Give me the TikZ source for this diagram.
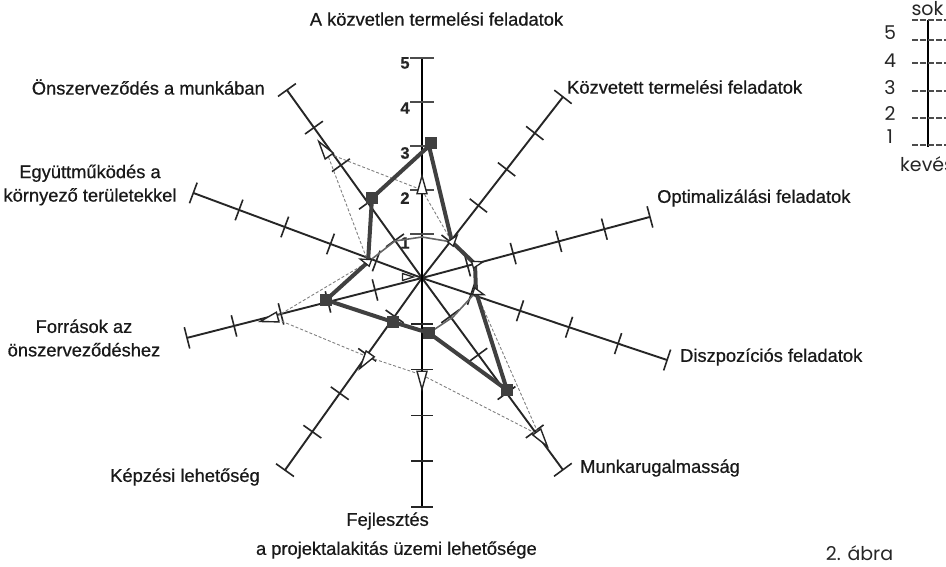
\documentclass[tikz,border=0pt]{standalone}
\usepackage{fontspec}
\setmainfont{Liberation Sans}[FakeBold=0.4]
\newfontfamily\labfont{Liberation Sans}[FakeBold=0.6]
\newfontfamily\legfont{Poppins}
\usetikzlibrary{calc,shapes.geometric}
\definecolor{axc}{gray}{0.15}
\definecolor{sqc}{gray}{0.25}
\begin{document}
\begin{tikzpicture}[x=1pt,y=-1pt,
  ax/.style={draw=axc, line width=1.9pt},
  tk/.style={draw=axc, line width=1.6pt},
  lbl/.style={font=\labfont\fontsize{18.3}{23.5}\selectfont, inner sep=0pt, text=black!90},
  numf/.style={font=\fontsize{16.5}{18}\selectfont\bfseries, inner sep=0pt, text=black!85},
  legt/.style={font=\legfont\fontsize{19}{21}\selectfont, inner sep=0pt, text=black!85},
  sqm/.style={rectangle, fill=sqc, minimum size=12.5pt, inner sep=0pt},
  trm/.style={isosceles triangle, isosceles triangle stretches, minimum width=10pt, minimum height=18pt, inner sep=0pt, draw=black!85, fill=white, line width=1.4pt},
  trs/.style={isosceles triangle, isosceles triangle stretches, minimum width=7pt, minimum height=11pt, inner sep=0pt, draw=black!85, fill=white, line width=1.3pt},
  sera/.style={draw=sqc, line width=4pt, line join=round},
  serb/.style={draw=black!50, line width=0.9pt, dash pattern=on 3pt off 2pt},
  serc/.style={draw=black!60, line width=1.6pt, line join=round},
  legtick/.style={draw=black!70, line width=1.1pt, dash pattern=on 6pt off 2pt}
]
\useasboundingbox (0,0) rectangle (946,567);
\fill[white] (0,0) rectangle (946,567);

% centre and axis ends
\coordinate (C) at (422,278);
\foreach \i/\b/\u in {1/-90/44, 2/-52.1/45.9, 3/-15/47.2, 4/18.5/51.7, 5/53.7/47.6,
                      6/90/45.8, 7/125.5/47.2, 8/165.7/48.5, 9/-159.6/48.8, 10/-125.7/46.3}{
  \pgfmathsetmacro\R{5*\u}
  \coordinate (e\i) at ($(C)+(\b:\R)$);
}

% axes
\foreach \i in {2,3,4,5,7,8,9,10}{\draw[ax] (C) -- (e\i);}
\draw[draw=black, line width=2.3pt] (e1) -- (e6);

% ticks on slanted axes and on the lower vertical axis
\foreach \b/\u/\h in {-52.1/45.9/11, -15/47.2/11, 18.5/51.7/11, 53.7/47.6/11,
                      90/45.8/11, 125.5/47.2/11, 165.7/48.5/11, -159.6/48.8/11, -125.7/46.3/11}{
  \foreach \k in {1,...,5}{
    \pgfmathsetmacro\rr{\k*\u}
    \draw[tk] ($(C)+(\b:\rr)+(\b+90:\h)$) -- ($(C)+(\b:\rr)+(\b-90:\h)$);
  }
}
% ticks and numbers on the upper vertical axis
\foreach \k in {1,...,5}{
  \pgfmathsetmacro\yy{278-44*\k}
  \pgfmathsetmacro\ny{288-45*\k}
  \draw[draw=black!70, line width=1.2pt] (410,\yy) -- (434,\yy);
  \node[numf] (n\k) at (405,\ny) {\k};
}

% series coordinates
\coordinate (A1) at (429,146);
\coordinate (A2) at (452,242);
\coordinate (A3) at (475,264);
\coordinate (A4) at (476,292);
\coordinate (A5) at (507,390);
\coordinate (A6) at (429,333);
\coordinate (A7) at (393,322);
\coordinate (A8) at (326,300);
\coordinate (A9) at (368,262);
\coordinate (A10) at (372,198);

\coordinate (B1) at (422,190);
\coordinate (B5) at (539,435);
\coordinate (B6) at (422,375);
\coordinate (B7) at (368,357);
\coordinate (B8) at (274,318);
\coordinate (B10) at (327,153);

\coordinate (C10) at (395,241);
\coordinate (C1) at (422,237);
\coordinate (C5) at (453,317);
\coordinate (Z) at (405,277);

% series polygons
\draw[serb] (B1) -- (A2) -- (A3) -- (A4) -- (B5) -- (B6) -- (B7) -- (B8) -- (A9) -- (B10) -- cycle;
\draw[serc] (A9) -- (C10) -- (C1) -- (A2);
\draw[serc] (A4) -- (C5) -- (A6);
\draw[sera] (A1) -- (A2) -- (A3) -- (A4) -- (A5) -- (A6) -- (A7) -- (A8) -- (A9) -- (A10) -- cycle;

% square markers
\node[sqm] (s1) at (431,143) {};
\node[sqm] (s5) at (A5) {};
\node[sqm] (s6) at (A6) {};
\node[sqm] (s7) at (A7) {};
\node[sqm] (s8) at (A8) {};
\node[sqm] (s10) at (A10) {};

% triangle markers
\node[trm, rotate=90] (t1) at (B1) {};
\node[trm, rotate=-53.7] (t5) at (B5) {};
\node[trm, rotate=-90] (t6) at (B6) {};
\node[trm, rotate=234.5] (t7) at (B7) {};
\node[trm, rotate=194.3] (t8) at (B8) {};
\node[trm, rotate=125.7] (t10) at (B10) {};
\node[trs, rotate=52.1] (t2) at (A2) {};
\node[trs, rotate=15] (t3) at (A3) {};
\node[trs, rotate=-18.5] (t4) at (A4) {};
\node[trs, rotate=159.6] (t9) at (A9) {};
\node[trs, rotate=0] (tz) at (Z) {};

% axis labels
\node[lbl] (L1) at (436.5,19) {A közvetlen termelési feladatok};
\node[lbl, anchor=west] (L2) at (567,87) {Közvetett termelési feladatok};
\node[lbl, anchor=west] (L3) at (657,198) {Optimalizálási feladatok};
\node[lbl, anchor=west] (L4) at (680,357) {Diszpozíciós feladatok};
\node[lbl, anchor=west] (L5) at (580,468) {Munkarugalmasság};
\node[lbl, anchor=east] (L6a) at (429,521) {Fejlesztés};
\node[lbl, anchor=east] (L6b) at (537,550) {a projektalakitás üzemi lehetősége};
\node[lbl, anchor=east] (L7) at (260,477) {Képzési lehetőség};
\node[lbl, align=center] (L8) at (84,338) {Források az\\önszerveződéshez};
\node[lbl, align=center] (L9) at (90,185) {Együttműködés a\\környező területekkel};
\node[lbl, anchor=east] (L10) at (265,87) {Önszerveződés a munkában};

% legend scale
\coordinate (g1) at (928,20);
\coordinate (g2) at (928,147);
\draw[draw=black, line width=1.6pt] (g1) -- (g2);
\foreach \yy in {20,40,63,91,118,145}{\draw[legtick] (912,\yy) -- (946,\yy);}
\node[legt] (sok) at (927.5,9) {sok};
\node[legt, anchor=west] (keves) at (900,164) {kevés};
\node[legt] (l5) at (890,33) {5};
\node[legt] (l4) at (890,61) {4};
\node[legt] (l3) at (890,88) {3};
\node[legt] (l2) at (890,114) {2};
\node[legt] (l1) at (890,137) {1};

% figure caption
\node[legt, font=\legfont\fontsize{19}{21}\selectfont] (abra) at (859.5,553) {2. ábra};
\end{tikzpicture}
\end{document}
